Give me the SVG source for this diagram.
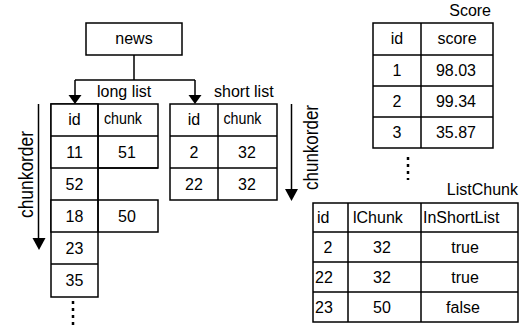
<svg xmlns="http://www.w3.org/2000/svg" width="520" height="331" viewBox="0 0 520 331">
<defs>
<style>
text{font-family:"Liberation Sans",Arial,sans-serif;font-size:16px;fill:#000}
.c{text-anchor:middle}
.e{text-anchor:end}
.b{fill:#fff;stroke:#000;stroke-width:1.5}
.l{stroke:#000;stroke-width:1.5;fill:none}
.a{fill:#000;stroke:none}
.d{stroke:#000;stroke-width:2.5;stroke-dasharray:3 4;fill:none}
.v{font-size:20px}
</style>
</defs>
<rect width="520" height="331" fill="#fff"/>
<g id="connectors">
<path class="l" d="M134 55V80M75 80H195M75 80V96M195 80V96"/>
<polygon class="a" points="68.5,95 81.5,95 75,104"/>
<polygon class="a" points="188.5,95 201.5,95 195,104"/>
</g>
<g id="news">
<rect class="b" x="86" y="23" width="96" height="32"/>
<text class="c" x="134" y="44">news</text>
</g>
<g id="longlist">
<text x="97" y="97">long list</text>
<rect class="b" x="51" y="104" width="107" height="64"/>
<rect class="b" x="51" y="200" width="107" height="32"/>
<rect class="b" x="51" y="104" width="47" height="193"/>
<path class="l" d="M98 104V232M51 136H158M51 168H158M51 200H98M51 232H98M51 264H98"/>
<text class="c" x="74.5" y="125">id</text>
<text x="104" y="124" textLength="38" lengthAdjust="spacingAndGlyphs">chunk</text>
<text class="c" x="74.5" y="158">11</text>
<text class="c" x="127" y="158">51</text>
<text class="c" x="74.5" y="190">52</text>
<text class="c" x="74.5" y="222">18</text>
<text class="c" x="127" y="222">50</text>
<text class="c" x="74.5" y="254">23</text>
<text class="c" x="74.5" y="286">35</text>
<line class="d" x1="73" y1="301" x2="73" y2="326"/>
</g>
<g id="order1">
<line class="l" x1="38.5" y1="104" x2="38.5" y2="240"/>
<polygon class="a" points="32.5,238 45.5,238 39,250"/>
<text class="c v" transform="translate(32.5 174.5) rotate(-90)" textLength="87" lengthAdjust="spacingAndGlyphs">chunkorder</text>
</g>
<g id="shortlist">
<text x="214" y="97">short list</text>
<rect class="b" x="170" y="104" width="107" height="96"/>
<path class="l" d="M218 104V200M170 136H277M170 168H277"/>
<text class="c" x="194" y="125">id</text>
<text x="223.5" y="124" textLength="38" lengthAdjust="spacingAndGlyphs">chunk</text>
<text class="c" x="194" y="158">2</text>
<text class="c" x="247" y="158">32</text>
<text class="c" x="194" y="190">22</text>
<text class="c" x="247" y="190">32</text>
</g>
<g id="order2">
<line class="l" x1="291.5" y1="104" x2="291.5" y2="190"/>
<polygon class="a" points="285,189 298,189 291.5,201"/>
<text class="c v" transform="translate(317.5 147.5) rotate(-90)" textLength="85" lengthAdjust="spacingAndGlyphs">chunkorder</text>
</g>
<g id="score">
<text class="e" x="491" y="16">Score</text>
<rect class="b" x="373" y="23" width="120" height="125"/>
<path class="l" d="M421 23V148M373 55H493M373 86H493M373 117H493"/>
<text class="c" x="397" y="44">id</text>
<text class="c" x="457" y="44">score</text>
<text class="c" x="397" y="76">1</text>
<text class="c" x="456" y="76">98.03</text>
<text class="c" x="397" y="107">2</text>
<text class="c" x="456" y="107">99.34</text>
<text class="c" x="397" y="138">3</text>
<text class="c" x="456" y="138">35.87</text>
<line class="d" x1="408" y1="157" x2="408" y2="180"/>
</g>
<g id="listchunk">
<text class="e" x="518" y="195">ListChunk</text>
<rect class="b" x="313" y="203" width="205" height="119"/>
<path class="l" d="M348 203V322M421 203V322M313 232H518M313 262H518M313 292H518"/>
<text x="317" y="223">id</text>
<text x="353" y="223">lChunk</text>
<text x="423" y="223">InShortList</text>
<text class="c" x="328" y="253">2</text>
<text class="c" x="382" y="253">32</text>
<text class="c" x="465" y="253">true</text>
<text x="315" y="283">22</text>
<text class="c" x="382" y="283">32</text>
<text class="c" x="465" y="283">true</text>
<text x="315" y="313">23</text>
<text class="c" x="382" y="313">50</text>
<text class="c" x="463" y="313">false</text>
</g>
</svg>
